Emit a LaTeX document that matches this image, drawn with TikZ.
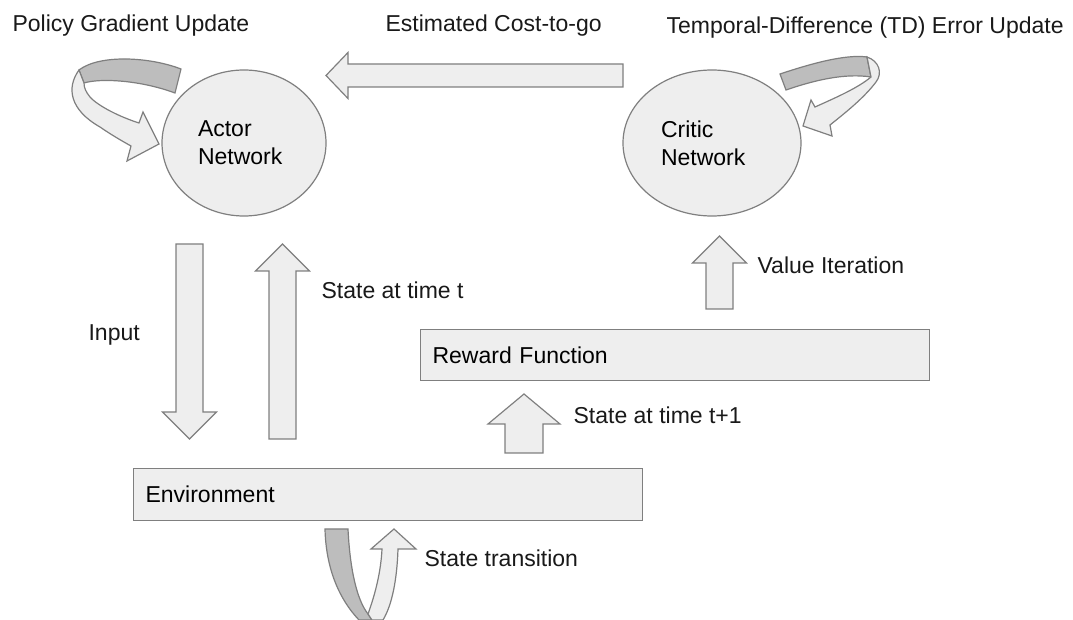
\documentclass[tikz,border=0pt]{standalone}
\usepackage{fontspec}
\setmainfont{Liberation Sans}
\usepackage{tikz}
\usetikzlibrary{shapes.geometric}
\usetikzlibrary{calc}
\usetikzlibrary{positioning}

\definecolor{boxfill}{HTML}{EEEEEE}
\definecolor{edgegray}{HTML}{7F7F7F}
\definecolor{bandgray}{HTML}{BDBDBD}

\tikzset{every picture/.style={x=0.5pt,y=-0.5pt,line width=0.6pt,font=\fontsize{11.5}{14}\selectfont},
  shapebox/.style={draw=edgegray,fill=boxfill},
  network/.style={shapebox,ellipse,inner sep=0pt,align=left,minimum height=73pt},
  block/.style={shapebox,rectangle,anchor=north west,inner xsep=6pt,inner ysep=0pt,text width=242.5pt,align=left},
  caption/.style={anchor=base west,inner sep=0pt,text=black!90},
  shaft half/.store in=\shafthalf, head half/.store in=\headhalf, head len/.store in=\headlen,
  shaft half=6.75pt, head half=13.5pt, head len=13.5pt,
  fat arrow/.style={shapebox,to path={($(\tikztostart)!\shafthalf!90:(\tikztotarget)$)
    -- ($(\tikztotarget)!\headlen!(\tikztostart)!\shafthalf!-90:(\tikztostart)$)
    -- ($(\tikztotarget)!\headlen!(\tikztostart)!\headhalf!-90:(\tikztostart)$)
    -- (\tikztotarget)
    -- ($(\tikztotarget)!\headlen!(\tikztostart)!\headhalf!90:(\tikztostart)$)
    -- ($(\tikztotarget)!\headlen!(\tikztostart)!\shafthalf!90:(\tikztostart)$)
    -- ($(\tikztostart)!\shafthalf!-90:(\tikztotarget)$) -- cycle}}}

\begin{document}
\begin{tikzpicture}
\useasboundingbox (0,0) rectangle (1073,620);
\node[network,minimum width=82pt,text width=46pt] (actor) at (244,143) {Actor\\Network};
\node[network,minimum width=89pt,text width=51pt] (critic) at (712,143) {Critic\\Network};
\node[block,minimum height=26pt] (env) at (133,468) {Environment};
\node[block,minimum height=25.5pt] (reward) at (420,329) {Reward Function};
% update loops (twisted ribbons)
\draw[draw=edgegray,fill=bandgray] (181,69) .. controls (150,57) and (100,54) .. (79,70) -- (84,83) .. controls (100,78) and (140,80) .. (175,93) -- cycle;
\draw[shapebox] (79,70) .. controls (66,88) and (70,110) .. (100,127) .. controls (110,134) and (122,141) .. (131,146) -- (127,161) -- (159,144) -- (143,112) -- (139,123) .. controls (120,117) and (98,106) .. (90,97) .. controls (86,92) and (84,88) .. (84,83) -- cycle;
\draw[draw=edgegray,fill=bandgray] (780,74) .. controls (810,64) and (845,54) .. (867,57) -- (871,77) .. controls (845,73) and (815,80) .. (786,90) -- cycle;
\draw[shapebox] (867,57) .. controls (879,61) and (883,73) .. (876,82) .. controls (864,98) and (845,113) .. (830,125) -- (832,136) -- (803,126) -- (811,100) -- (815,107) .. controls (835,98) and (858,88) .. (871,77) -- cycle;
\draw[draw=edgegray,fill=bandgray] (325,529) -- (348,529) .. controls (350,570) and (357,600) .. (368,614) -- (372,620) -- (359,620) .. controls (340,600) and (326,570) .. (325,529) -- cycle;
\draw[shapebox] (368,614) .. controls (376,592) and (381,570) .. (382,549) -- (371,549) -- (394,529) -- (416,549) -- (398,549) .. controls (397,580) and (392,605) .. (383,620) -- (372,620) -- cycle;
% block arrows
\coordinate (input top) at (189.5,244);
\coordinate (input end) at (189.5,439);
\coordinate (state low) at (282.5,439);
\coordinate (state top) at (282.5,244);
\coordinate (cost tail) at (623,75.5);
\coordinate (cost tip) at (326,75.5);
\coordinate (value low) at (719.5,309);
\coordinate (value top) at (719.5,236);
\coordinate (next low) at (524,453);
\coordinate (next top) at (524,394);
\draw[fat arrow] (input top) to (input end);
\draw[fat arrow] (state low) to (state top);
\draw[fat arrow,shaft half=5.75pt,head half=11.5pt,head len=11pt] (cost tail) to (cost tip);
\draw[fat arrow] (value low) to (value top);
\draw[fat arrow,shaft half=9.5pt,head half=18pt,head len=15pt] (next low) to (next top);
% labels
\node[caption] (policy) at (12,32) {Policy Gradient Update};
\node[caption] (cost) at (385,32) {Estimated Cost-to-go};
\node[caption] (td) at (666,34) {Temporal-Difference (TD) Error Update};
\node[caption] (input) at (88,341) {Input};
\node[caption] (state) at (321,299) {State at time t};
\node[caption] (value) at (757,274) {Value Iteration};
\node[caption] (next) at (573,424) {State at time t+1};
\node[caption] (trans) at (424,567) {State transition};
\end{tikzpicture}
\end{document}
